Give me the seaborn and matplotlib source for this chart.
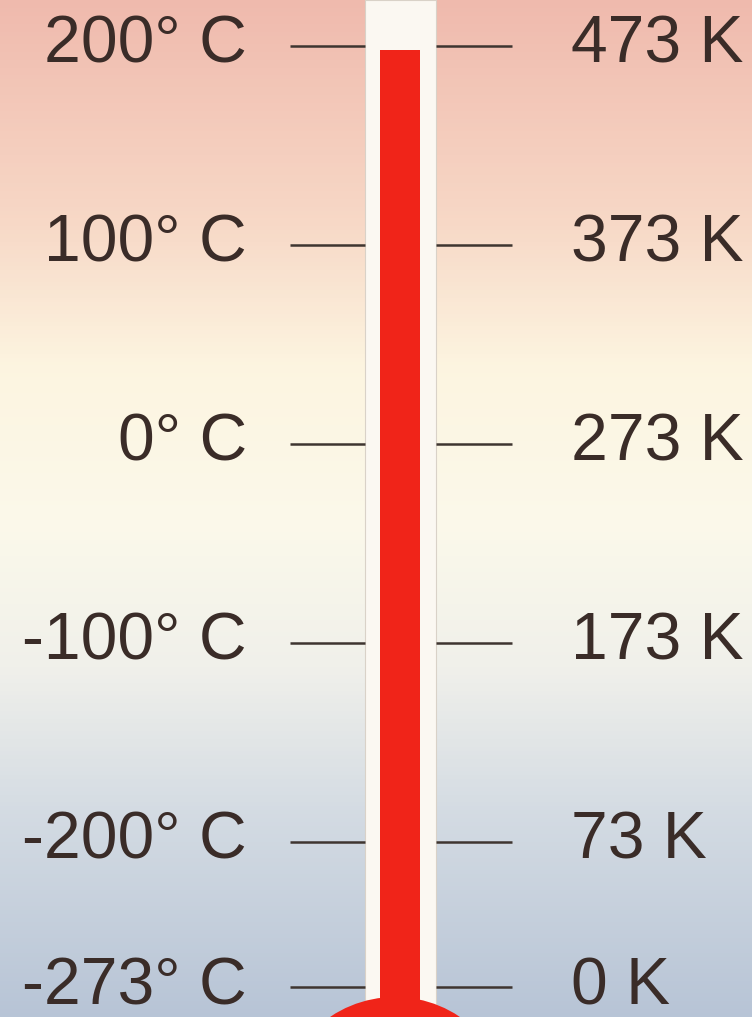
import numpy as np
import matplotlib
matplotlib.use("Agg")
import matplotlib.pyplot as plt
from matplotlib.colors import LinearSegmentedColormap
from matplotlib.patches import Ellipse
import seaborn as sns

# ---- data ----
celsius_ticks = [200, 100, 0, -100, -200, -273]
celsius_labels = ["200° C", "100° C", "0° C", "-100° C", "-200° C", "-273° C"]
kelvin_labels = ["473 K", "373 K", "273 K", "173 K", "73 K", "0 K"]
liquid_level = 198  # °C, top of red column

sns.set_theme(style="white")
plt.rcParams['font.family'] = ['Liberation Sans', 'DejaVu Sans']

W, H = 752, 1017
fig = plt.figure(figsize=(W / 100, H / 100), dpi=100)
ax = fig.add_axes([0, 0, 1, 1])

ymin, ymax = -288, 223
xmin, xmax = 0, W
ax.set_xlim(xmin, xmax)
ax.set_ylim(ymin, ymax)

# background gradient (top -> bottom)
bg = LinearSegmentedColormap.from_list(
    "bg",
    [(0.0, (0.94, 0.73, 0.68)),
     (0.22, (0.97, 0.85, 0.78)),
     (0.36, (0.99, 0.96, 0.88)),
     (0.52, (0.985, 0.975, 0.92)),
     (0.66, (0.94, 0.94, 0.92)),
     (0.80, (0.83, 0.86, 0.89)),
     (1.0, (0.72, 0.77, 0.84))])
grad = np.linspace(0, 1, 256).reshape(-1, 1)
ax.imshow(grad, cmap=bg, aspect="auto", extent=[xmin, xmax, ymin, ymax],
          origin="upper", zorder=0)

cx = 400
px_per_unit = (H) / (ymax - ymin)
# glass tube (white) and red column
ax.bar([cx], [ymax + 20 - ymin], bottom=ymin - 20, width=71,
       color="#fbf8f2", edgecolor="#d9d2c8", linewidth=0.8, zorder=2)
ax.bar([cx], [liquid_level - ymin + 20], bottom=ymin - 20, width=40,
       color="#f02419", linewidth=0, zorder=3)

# bulb
r_px = 116
bulb = Ellipse((cx - 5, ymin - (1113 - H) / px_per_unit), 2 * r_px,
               2 * r_px / px_per_unit, color="#f02419", zorder=4, linewidth=0)
ax.add_patch(bulb)

# tick marks and labels
tick_col = "#3e3530"
text_col = "#3a2c28"
for t, cl, kl in zip(celsius_ticks, celsius_labels, kelvin_labels):
    ax.plot([290, 365], [t, t], color=tick_col, lw=1.8, zorder=5,
            solid_capstyle="butt")
    ax.plot([436, 512], [t, t], color=tick_col, lw=1.8, zorder=5,
            solid_capstyle="butt")
    ax.text(247, t, cl, ha="right", va="center", fontsize=47.5,
            color=text_col, zorder=6)
    ax.text(571, t, kl, ha="left", va="center", fontsize=47.5,
            color=text_col, zorder=6)

ax.set_axis_off()
fig.savefig("out.png", dpi=100)
